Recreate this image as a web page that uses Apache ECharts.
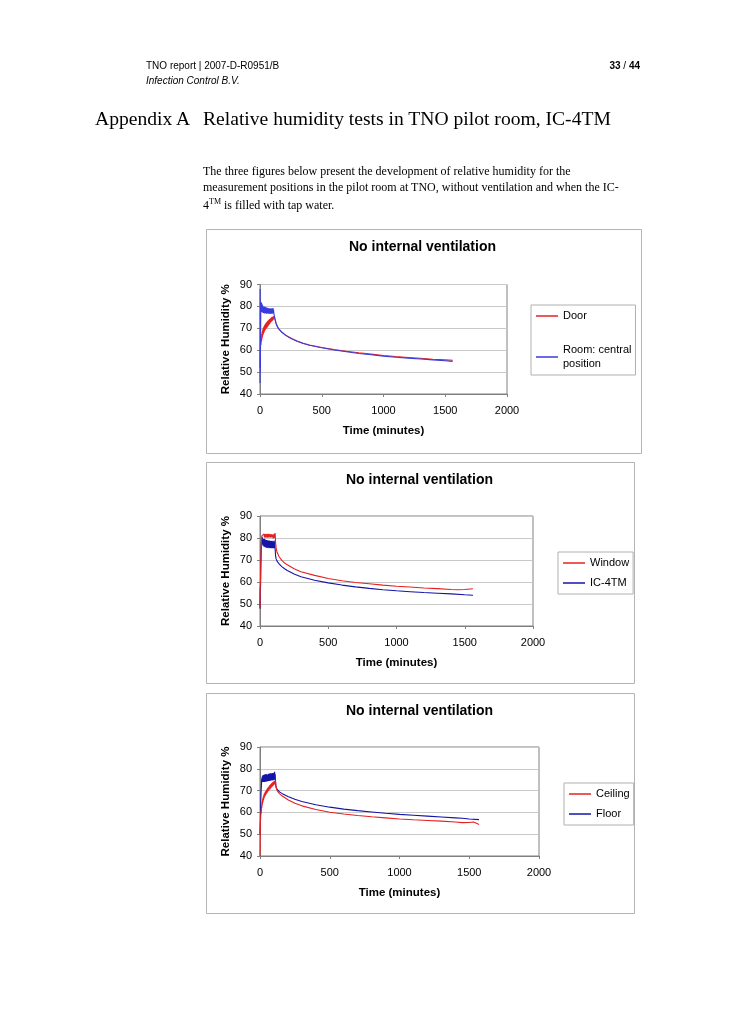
<!DOCTYPE html>
<html>
<head>
<meta charset="utf-8">
<script src="https://cdn.jsdelivr.net/npm/echarts@6/dist/echarts.min.js"></script>
<style>
  html, body { margin:0; padding:0; background:#fff; }
  body { width:730px; height:1032px; position:relative; overflow:hidden; }
  #c { position:absolute; left:0; top:0; width:730px; height:1032px; z-index:1; }
  .t { position:absolute; z-index:2; white-space:nowrap; color:#000; }
  .hdr { font-family:"Liberation Sans", Arial, sans-serif; font-size:10px; line-height:12px; }
  .ser { font-family:"Liberation Serif", "Times New Roman", serif; }
  sup { font-size:8px; line-height:0; vertical-align:5px; }
</style>
</head>
<body>
<div class="t hdr" style="left:146px; top:60px;">TNO report | 2007-D-R0951/B</div>
<div class="t hdr" style="left:146px; top:75px; font-style:italic;">Infection Control B.V.</div>
<div class="t hdr" style="right:90px; top:60px;"><b>33</b> / <b>44</b></div>
<div class="t ser" style="left:95px; top:107px; font-size:19.6px; line-height:24px;">Appendix A</div>
<div class="t ser" style="left:203px; top:107px; font-size:19.6px; line-height:24px;">Relative humidity tests in TNO pilot room, IC-4TM</div>
<div class="t ser" style="left:203px; top:163px; font-size:12px; line-height:16px;">The three figures below present the development of relative humidity for the</div>
<div class="t ser" style="left:203px; top:179px; font-size:12px; line-height:16px;">measurement positions in the pilot room at TNO, without ventilation and when the IC-</div>
<div class="t ser" style="left:203px; top:197px; font-size:12px; line-height:16px;">4<sup>TM</sup> is filled with tap water.</div>
<div id="c"></div>
<script>
// ---------- data (time in minutes, relative humidity %) ----------
const chartTitle = 'No internal ventilation';
const xAxisName = 'Time (minutes)';
const yAxisName = 'Relative Humidity %';

const doorData = [[0,52],[2,58],[4,62],[6,65],[8,62.5],[10,66],[12,64],[14,67.5],[16,65],[18,68.5],[20,66],[22,69.5],[24,66.8],[26,70],[28,67.5],[30,70.6],[32,68],[34,71],[36,68.5],[38,71.5],[40,69],[42,71.8],[44,69.3],[46,72.2],[48,69.7],[50,72.5],[52,70],[54,72.8],[56,70.3],[58,73],[60,70.6],[62,73.3],[64,71],[66,73.6],[68,71.3],[70,73.8],[72,71.6],[74,74],[76,71.9],[78,74.2],[80,72.2],[82,74.4],[84,72.5],[86,74.6],[88,72.8],[90,74.8],[92,73],[94,75],[96,73.2],[98,75.1],[100,73.5],[102,75.3],[104,73.7],[106,75.4],[108,74],[110,75.5],[112,74.5],[115,75.6],[118,75],[122,74],[130,72.3],[140,70.9],[150,69.9],[175,68.4],[200,67.2],[230,66.1],[260,65.2],[300,64.2],[350,63.2],[400,62.4],[500,61.2],[600,60.3],[700,59.5],[800,58.8],[900,58.2],[1000,57.6],[1100,57.1],[1200,56.7],[1300,56.3],[1400,55.9],[1500,55.6],[1560,55.4]];

const roomData = [[0,45],[1,88],[3,50],[5,70],[7,80],[9,82],[11,78],[13,81.5],[15,77.5],[17,81],[19,78],[21,80.5],[23,77],[25,80],[27,77.5],[29,79.5],[31,77],[33,80],[35,76.8],[37,79.5],[39,77.2],[41,79.8],[43,76.9],[45,79.2],[47,77],[49,79.6],[51,76.7],[53,79],[55,77.1],[57,79.4],[59,76.8],[61,78.9],[63,77],[65,79.3],[67,76.6],[69,78.8],[71,77],[73,79.1],[75,76.7],[77,78.7],[79,76.9],[81,79],[83,76.6],[85,78.6],[87,76.8],[89,79.2],[91,76.7],[93,78.5],[95,76.9],[97,79],[99,76.6],[101,78.8],[103,77],[105,79.3],[107,76.8],[109,78.5],[111,77.5],[113,76.5],[116,75.6],[120,74.5],[130,72.2],[140,70.8],[150,69.8],[175,68.3],[200,67.1],[230,66],[260,65.1],[300,64.1],[350,63.1],[400,62.3],[500,61.1],[600,60.1],[700,59.3],[800,58.5],[900,57.9],[1000,57.3],[1100,56.8],[1200,56.4],[1300,56],[1400,55.6],[1500,55.2],[1560,54.9]];

const windowData = [[0,48],[2,58],[4,62],[6,70],[8,74],[10,78],[12,80],[14,81],[16,80.2],[18,81.6],[20,80.3],[22,81.8],[24,80.4],[26,81.5],[28,80.2],[30,81.9],[32,80.5],[34,81.6],[36,80.1],[38,81.8],[40,80.4],[42,81.5],[44,80.2],[46,81.7],[48,80.6],[50,81.9],[52,80.3],[54,81.4],[56,80.1],[58,81.8],[60,80.5],[62,81.6],[64,80.2],[66,81.9],[68,80.4],[70,81.3],[72,80],[74,81.7],[76,80.3],[78,81.5],[80,80.1],[82,81.8],[84,80.4],[86,81.2],[88,79.9],[90,81.6],[92,80.2],[94,81.4],[96,79.8],[98,81.7],[100,80.1],[102,81.5],[104,80],[106,81.9],[108,80.3],[110,82.3],[112,81],[114,78],[118,75.5],[125,73.5],[140,71.5],[160,69.8],[180,68.6],[200,67.8],[250,66],[300,64.7],[400,63],[500,61.6],[600,60.6],[700,59.8],[800,59.2],[900,58.6],[1000,58.1],[1100,57.7],[1200,57.3],[1300,57],[1400,56.6],[1450,56.5],[1500,56.6],[1560,56.9]];

const icData = [[0,48],[2,57],[4,58],[6,66],[8,72],[10,77],[12,80],[14,78.5],[16,80.5],[18,77],[20,79.8],[22,76.5],[24,79.5],[26,76.8],[28,79.2],[30,76],[32,79.6],[34,76.4],[36,78.9],[38,75.8],[40,79.3],[42,76.2],[44,78.7],[46,75.6],[48,79.1],[50,76],[52,78.5],[54,75.5],[56,79],[58,76.1],[60,78.4],[62,75.7],[64,78.8],[66,75.4],[68,78.2],[70,75.8],[72,78.9],[74,75.5],[76,78.3],[78,75.9],[80,78.6],[82,75.3],[84,78.1],[86,75.7],[88,78.7],[90,75.4],[92,78],[94,75.8],[96,78.5],[98,75.3],[100,78.2],[102,75.6],[104,78.8],[106,75.4],[108,78.1],[110,75.9],[112,76],[114,72],[118,70.5],[125,69.5],[140,68.2],[160,67],[180,66],[200,65.2],[250,63.6],[300,62.4],[400,60.8],[500,59.6],[600,58.6],[700,57.8],[800,57.1],[900,56.5],[1000,56],[1100,55.6],[1200,55.2],[1300,54.9],[1400,54.6],[1500,54.2],[1560,54]];

const ceilingData = [[0,40],[1,44],[3,55],[5,58],[7,61],[9,59.5],[11,63.5],[13,62],[15,65],[17,63.5],[19,66.2],[21,64.6],[23,67.2],[25,65.6],[27,68],[29,66.4],[31,68.6],[33,67],[35,69.1],[37,67.5],[39,69.6],[41,68],[43,70],[45,68.4],[47,70.4],[49,68.8],[51,70.8],[53,69.2],[55,71.2],[57,69.6],[59,71.5],[61,69.9],[63,71.8],[65,70.2],[67,72.2],[69,70.5],[71,72.5],[73,70.8],[75,72.8],[77,71.1],[79,73],[81,71.4],[83,73.3],[85,71.7],[87,73.6],[89,72],[91,73.8],[93,72.2],[95,74],[97,72.5],[99,74.2],[101,72.7],[103,74.4],[105,72.9],[107,74.5],[109,73.2],[111,74.6],[114,72.5],[118,70.8],[125,69.8],[140,68.6],[160,67.5],[200,65.8],[250,64.2],[300,63],[400,61.3],[500,60.1],[600,59.3],[700,58.6],[800,58],[900,57.5],[1000,57],[1100,56.6],[1200,56.3],[1300,56],[1400,55.6],[1450,55.3],[1500,55.4],[1530,55.6],[1560,54.8],[1570,54.4]];

const floorData = [[0,50],[2,55],[4,60],[6,66],[8,70],[10,72],[12,75.5],[14,73.8],[16,76.5],[18,74],[20,77],[22,74.2],[24,76.8],[26,73.9],[28,77.3],[30,74.3],[32,76.6],[34,74],[36,77.5],[38,74.4],[40,76.9],[42,74.1],[44,77.6],[46,74.5],[48,76.7],[50,74.2],[52,77.4],[54,74.6],[56,76.8],[58,74.3],[60,77.7],[62,74.7],[64,77],[66,74.4],[68,77.8],[70,74.8],[72,77.2],[74,74.5],[76,77.9],[78,74.9],[80,77.3],[82,74.6],[84,78],[86,75],[88,77.4],[90,74.7],[92,78.1],[94,75.1],[96,77.5],[98,74.8],[100,78.2],[102,75.2],[104,77.6],[105,78.6],[107,75],[109,77.5],[111,74],[114,72],[118,71],[125,70.3],[140,69.4],[160,68.6],[200,67.3],[250,66],[300,65],[400,63.5],[500,62.4],[600,61.5],[700,60.8],[800,60.2],[900,59.6],[1000,59.1],[1100,58.7],[1200,58.3],[1300,57.9],[1400,57.5],[1450,57.3],[1500,57],[1570,56.7]];

const xTicks = { min:0, max:2000, interval:500 };
const yTicks = { min:40, max:90, interval:10 };

const panels = [
  { names:['Door','Room: central position'], data:[doorData, roomData], colors:['#e42222','#3a3ae0'], topIndex:1 },
  { names:['Window','IC-4TM'], data:[windowData, icData], colors:['#e42222','#1414a8'], topIndex:0 },
  { names:['Ceiling','Floor'], data:[ceilingData, floorData], colors:['#e42222','#1414a8'], topIndex:0 }
];

// ---------- layout ----------
const FONT = '"Liberation Sans", Arial, sans-serif';
const grids = [
  { left:260, top:284.5, width:247, height:109.5 },
  { left:260, top:516, width:273, height:110 },
  { left:260, top:747, width:279, height:109 }
];
const boxes = [
  { x:206, y:229, w:435, h:224 },
  { x:206, y:462, w:428, h:221 },
  { x:206, y:693, w:428, h:220 }
];
const titlePos = [ {left:349, top:240}, {left:346, top:473}, {left:346, top:704} ];
const legendPos = [
  { left:531, top:305, itemGap:20 },
  { left:558, top:552, itemGap:6 },
  { left:564, top:783, itemGap:6 }
];

const option = {
  animation:false,
  backgroundColor:'transparent',
  textStyle:{ fontFamily:FONT },
  graphic: boxes.map(b => ({ type:'rect', shape:{x:b.x+0.5, y:b.y+0.5, width:b.w, height:b.h}, style:{fill:'none', stroke:'#b4b4b4', lineWidth:1}, silent:true })),
  title: titlePos.map(p => ({ text:chartTitle, left:p.left, top:p.top, padding:0, textStyle:{ fontFamily:FONT, fontSize:14, fontWeight:'bold', color:'#000' } })),
  grid: grids.map(g => Object.assign({ show:true, borderColor:'#808080', borderWidth:1, backgroundColor:'#fff', containLabel:false }, g)),
  xAxis: grids.map((g,i) => ({
    type:'value', gridIndex:i, min:xTicks.min, max:xTicks.max, interval:xTicks.interval,
    name:xAxisName, nameLocation:'middle', nameGap:31,
    nameTextStyle:{ fontFamily:FONT, fontSize:11.5, fontWeight:'bold', color:'#000' },
    axisLine:{ show:true, onZero:false, lineStyle:{ color:'#808080', width:1 } },
    axisTick:{ show:true, length:3, lineStyle:{ color:'#808080' } },
    axisLabel:{ fontFamily:FONT, fontSize:11, color:'#000', margin:11, formatter: v => String(v) },
    splitLine:{ show:false }
  })),
  yAxis: grids.map((g,i) => ({
    type:'value', gridIndex:i, min:yTicks.min, max:yTicks.max, interval:yTicks.interval,
    name:yAxisName, nameLocation:'middle', nameGap:28, nameRotate:90,
    nameTextStyle:{ fontFamily:FONT, fontSize:11.5, fontWeight:'bold', color:'#000' },
    axisLine:{ show:true, lineStyle:{ color:'#808080', width:1 } },
    axisTick:{ show:true, length:3, lineStyle:{ color:'#808080' } },
    axisLabel:{ fontFamily:FONT, fontSize:11, color:'#000', margin:8, formatter: v => String(v) },
    splitLine:{ show:true, lineStyle:{ color:'#c8c8c8', width:1 } }
  })),
  legend: panels.map((p,i) => ({
    data:p.names, orient:'vertical', left:legendPos[i].left, top:legendPos[i].top,
    itemGap:legendPos[i].itemGap, itemWidth:22, itemHeight:1.5, icon:'rect',
    padding:[4,4,4,5], borderColor:'#b0b0b0', borderWidth:1, backgroundColor:'#fff',
    selectedMode:false,
    formatter: n => n === 'Room: central position' ? 'Room: central\nposition' : n,
    textStyle:{ fontFamily:FONT, fontSize:11, color:'#000', lineHeight:14 }
  })),
  series: []
};

panels.forEach((p,i) => {
  p.names.forEach((n,k) => {
    option.series.push({
      type:'line', name:n, xAxisIndex:i, yAxisIndex:i, data:p.data[k],
      showSymbol:false, symbol:'none', smooth:false,
      color:p.colors[k], lineStyle:{ color:p.colors[k], width:1.1 },
      z: k === p.topIndex ? 3 : 2
    });
  });
});

const chart = echarts.init(document.getElementById('c'), null, { renderer:'canvas', width:730, height:1032 });
chart.setOption(option);
</script>
</body>
</html>
